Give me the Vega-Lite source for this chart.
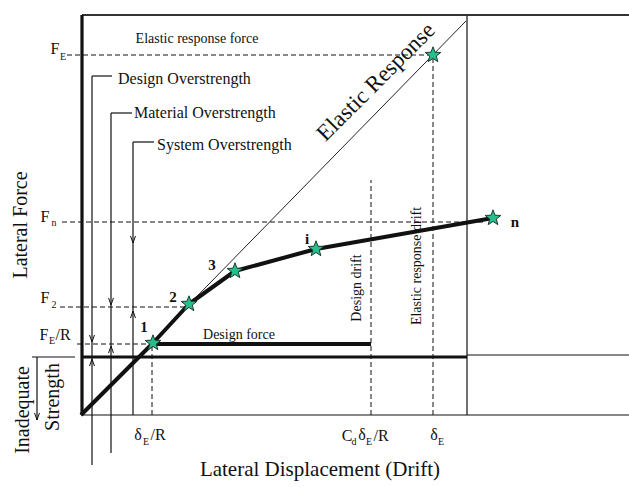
{
  "$schema": "https://vega.github.io/schema/vega-lite/v6.json",
  "width": 629,
  "height": 487,
  "autosize": {"type": "none"},
  "padding": 0,
  "background": "white",
  "config": {"view": {"stroke": null}},
  "datasets": {
    "frameThick": [
      {"drift": 1, "drift2": 1, "force": 0, "force2": 400},
      {"drift": 1, "drift2": 386, "force": 58, "force2": 58}
    ],
    "frameTop": [
      {"drift": 1, "drift2": 548, "force": 400, "force2": 400}
    ],
    "frameThin": [
      {"drift": 386, "drift2": 386, "force": 0, "force2": 400},
      {"drift": 0, "drift2": 548, "force": 0, "force2": 0},
      {"drift": 386, "drift2": 548, "force": 60, "force2": 60},
      {"drift": -49, "drift2": -6, "force": 58, "force2": 58},
      {"drift": -44, "drift2": -44, "force": 58, "force2": -5},
      {"drift": 11, "drift2": 11, "force": 339, "force2": -50},
      {"drift": 11, "drift2": 31, "force": 339, "force2": 339},
      {"drift": 30, "drift2": 30, "force": 302, "force2": -38},
      {"drift": 30, "drift2": 51, "force": 302, "force2": 302},
      {"drift": 52, "drift2": 52, "force": 273, "force2": 0},
      {"drift": 52, "drift2": 73, "force": 273, "force2": 273}
    ],
    "dashed": [
      {"drift": -14, "drift2": 352, "force": 360, "force2": 360},
      {"drift": -19, "drift2": 405, "force": 193, "force2": 193},
      {"drift": -21, "drift2": 108, "force": 108, "force2": 108},
      {"drift": -4, "drift2": 72, "force": 71, "force2": 71},
      {"drift": 71, "drift2": 71, "force": 0, "force2": 71},
      {"drift": 290, "drift2": 290, "force": 0, "force2": 235},
      {"drift": 352, "drift2": 352, "force": 0, "force2": 360}
    ],
    "designForce": [
      {"drift": 72, "drift2": 290, "force": 71, "force2": 71}
    ],
    "elastic": [
      {"drift": 0, "force": 0},
      {"drift": 385, "force": 394}
    ],
    "capacity": [
      {"drift": 0, "force": 0},
      {"drift": 72, "force": 72},
      {"drift": 108, "force": 111},
      {"drift": 154, "force": 144},
      {"drift": 235, "force": 166},
      {"drift": 412, "force": 197}
    ],
    "stars": [
      {"drift": 72, "force": 72},
      {"drift": 108, "force": 111},
      {"drift": 154, "force": 144},
      {"drift": 235, "force": 166},
      {"drift": 412, "force": 197},
      {"drift": 352, "force": 360}
    ],
    "arrowDown": [
      {"drift": 11, "force": 73},
      {"drift": 30, "force": 110},
      {"drift": 52, "force": 172},
      {"drift": -44, "force": -5}
    ],
    "arrowUp": [
      {"drift": 11, "force": 56},
      {"drift": 30, "force": 69},
      {"drift": 52, "force": 104}
    ],
    "stepLabels": [
      {"drift": 63, "force": 88, "label": "1"},
      {"drift": 92, "force": 118, "label": "2"},
      {"drift": 131, "force": 150, "label": "3"},
      {"drift": 226, "force": 176, "label": "i"},
      {"drift": 434, "force": 193, "label": "n"}
    ],
    "symbols": [
      {"drift": -26, "force": 366, "label": "F"},
      {"drift": -36, "force": 198, "label": "F"},
      {"drift": -36, "force": 117, "label": "F"},
      {"drift": -37, "force": 80, "label": "F"},
      {"drift": -18, "force": 80, "label": "/R"},
      {"drift": 57, "force": -20, "label": "δ"},
      {"drift": 77, "force": -20, "label": "/R"},
      {"drift": 266, "force": -21, "label": "C"},
      {"drift": 281, "force": -20, "label": "δ"},
      {"drift": 300, "force": -21, "label": "/R"},
      {"drift": 353, "force": -20, "label": "δ"}
    ],
    "subscripts": [
      {"drift": -18, "force": 358, "label": "E"},
      {"drift": -27, "force": 192, "label": "n"},
      {"drift": -27, "force": 110, "label": "2"},
      {"drift": -29, "force": 74, "label": "E"},
      {"drift": 65, "force": -27, "label": "E"},
      {"drift": 273, "force": -27, "label": "d"},
      {"drift": 288, "force": -27, "label": "E"},
      {"drift": 360, "force": -27, "label": "E"}
    ],
    "notesSmall": [
      {"drift": 116, "force": 376, "label": "Elastic response force"},
      {"drift": 158, "force": 80, "label": "Design force"}
    ],
    "notesLeft": [
      {"drift": 37, "force": 336, "label": "Design Overstrength"},
      {"drift": 53, "force": 302, "label": "Material Overstrength"},
      {"drift": 76, "force": 270, "label": "System Overstrength"}
    ],
    "notesVertical": [
      {"drift": 276, "force": 127, "label": "Design drift"},
      {"drift": 336, "force": 149, "label": "Elastic response drift"}
    ],
    "titlesVertical": [
      {"drift": -60, "force": 190, "label": "Lateral Force"},
      {"drift": -58, "force": 5, "label": "Inadequate"},
      {"drift": -28, "force": 18, "label": "Strength"}
    ],
    "titleX": [
      {"drift": 239, "force": -55, "label": "Lateral Displacement (Drift)"}
    ],
    "elasticTitle": [
      {"drift": 295, "force": 333, "label": "Elastic Response"}
    ]
  },
  "encoding": {
    "x": {"field": "drift", "type": "quantitative", "scale": {"domain": [-81, 548], "nice": false, "zero": false}, "axis": null},
    "y": {"field": "force", "type": "quantitative", "scale": {"domain": [-72, 415], "nice": false, "zero": false}, "axis": null}
  },
  "layer": [
    {
      "data": {"name": "dashed"},
      "mark": {"type": "rule", "color": "#111", "strokeWidth": 1, "strokeDash": [5, 3]},
      "encoding": {"x2": {"field": "drift2"}, "y2": {"field": "force2"}}
    },
    {
      "data": {"name": "frameThin"},
      "mark": {"type": "rule", "color": "#111", "strokeWidth": 1.2},
      "encoding": {"x2": {"field": "drift2"}, "y2": {"field": "force2"}}
    },
    {
      "data": {"name": "frameTop"},
      "mark": {"type": "rule", "color": "#333", "strokeWidth": 2},
      "encoding": {"x2": {"field": "drift2"}, "y2": {"field": "force2"}}
    },
    {
      "data": {"name": "frameThick"},
      "mark": {"type": "rule", "color": "#111", "strokeWidth": 3.2},
      "encoding": {"x2": {"field": "drift2"}, "y2": {"field": "force2"}}
    },
    {
      "data": {"name": "elastic"},
      "mark": {"type": "line", "color": "#222", "strokeWidth": 1}
    },
    {
      "data": {"name": "designForce"},
      "mark": {"type": "rule", "color": "#111", "strokeWidth": 4},
      "encoding": {"x2": {"field": "drift2"}, "y2": {"field": "force2"}}
    },
    {
      "data": {"name": "capacity"},
      "mark": {"type": "line", "color": "#111", "strokeWidth": 4, "strokeJoin": "round"}
    },
    {
      "data": {"name": "stepLabels"},
      "mark": {"type": "text", "font": "Liberation Serif", "fontSize": 15, "fontWeight": "bold", "color": "#111", "baseline": "middle", "align": "center"},
      "encoding": {"text": {"field": "label"}}
    },
    {
      "data": {"name": "symbols"},
      "mark": {"type": "text", "font": "Liberation Serif", "fontSize": 16, "color": "#111", "baseline": "middle", "align": "center"},
      "encoding": {"text": {"field": "label"}}
    },
    {
      "data": {"name": "subscripts"},
      "mark": {"type": "text", "font": "Liberation Serif", "fontSize": 10, "color": "#111", "baseline": "middle", "align": "center"},
      "encoding": {"text": {"field": "label"}}
    },
    {
      "data": {"name": "notesSmall"},
      "mark": {"type": "text", "font": "Liberation Serif", "fontSize": 14, "color": "#111", "baseline": "middle", "align": "center"},
      "encoding": {"text": {"field": "label"}}
    },
    {
      "data": {"name": "notesLeft"},
      "mark": {"type": "text", "font": "Liberation Serif", "fontSize": 16, "color": "#111", "baseline": "middle", "align": "left"},
      "encoding": {"text": {"field": "label"}}
    },
    {
      "data": {"name": "notesVertical"},
      "mark": {"type": "text", "font": "Liberation Serif", "fontSize": 14, "color": "#111", "baseline": "middle", "align": "center", "angle": 270},
      "encoding": {"text": {"field": "label"}}
    },
    {
      "data": {"name": "titlesVertical"},
      "mark": {"type": "text", "font": "Liberation Serif", "fontSize": 20, "color": "#111", "baseline": "middle", "align": "center", "angle": 270},
      "encoding": {"text": {"field": "label"}}
    },
    {
      "data": {"name": "titleX"},
      "mark": {"type": "text", "font": "Liberation Serif", "fontSize": 21, "color": "#111", "baseline": "middle", "align": "center"},
      "encoding": {"text": {"field": "label"}}
    },
    {
      "data": {"name": "elasticTitle"},
      "mark": {"type": "text", "font": "Liberation Serif", "fontSize": 23, "color": "#111", "baseline": "middle", "align": "center", "angle": 315},
      "encoding": {"text": {"field": "label"}}
    },
    {
      "data": {"name": "arrowDown"},
      "mark": {"type": "point", "shape": "M-0.35,-1L0,0L0.35,-1", "size": 200, "filled": false, "stroke": "#111", "strokeWidth": 1, "opacity": 1}
    },
    {
      "data": {"name": "arrowUp"},
      "mark": {"type": "point", "shape": "M-0.35,1L0,0L0.35,1", "size": 200, "filled": false, "stroke": "#111", "strokeWidth": 1, "opacity": 1}
    },
    {
      "data": {"name": "stars"},
      "mark": {"type": "point", "shape": "M0,-1L0.247,-0.34L0.951,-0.309L0.399,0.13L0.588,0.809L0,0.42L-0.588,0.809L-0.399,0.13L-0.951,-0.309L-0.247,-0.34Z", "size": 270, "filled": true, "fill": "#27bd8c", "stroke": "#1d3b30", "strokeWidth": 1, "opacity": 1}
    }
  ]
}
